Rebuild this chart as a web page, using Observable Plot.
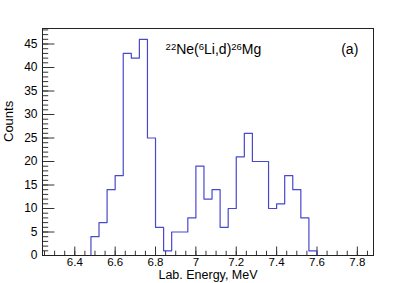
<!DOCTYPE html>
<html><head><meta charset="utf-8">
<script src="https://cdn.jsdelivr.net/npm/d3@7"></script>
<script src="https://cdn.jsdelivr.net/npm/@observablehq/plot@0.6"></script>
<style>body{margin:0;background:#fff}svg{display:block}</style>
</head><body><div id="chart"></div>
<script>
// Histogram bin edges (lower edges, plus final upper edge), MeV
const binEdges = [6.24,6.28,6.32,6.36,6.40,6.44,6.48,6.52,6.56,6.60,6.64,6.68,6.72,6.76,6.80,6.84,6.88,6.92,6.96,7.00,7.04,7.08,7.12,7.16,7.20,7.24,7.28,7.32,7.36,7.40,7.44,7.48,7.52,7.56,7.60,7.64,7.68,7.72,7.76,7.80,7.84,7.88];
// Counts per bin
const binCounts = [0,0,0,0,0,0,4,7,14,17,43,42,46,25,6,1,5,5,8,19,12,14,6,10,21,26,20,20,10,11,17,14,8,1,0,0,0,0,0,0,0];
const xMajorTicks = [6.4,6.6,6.8,7.0,7.2,7.4,7.6,7.8];
const xTickLabels = ["6.4","6.6","6.8","7","7.2","7.4","7.6","7.8"];
const yMajorTicks = [0,5,10,15,20,25,30,35,40,45];
const xTitle = "Lab. Energy, MeV";
const yTitle = "Counts";
const titleParts = [["22",true],["Ne(",false],["6",true],["Li,d)",false],["26",true],["Mg",false]];
const panelLabel = "(a)";

const xMinorTicks = d3.range(6.25, 7.88, 0.05).map(v => +v.toFixed(2));
const yMinorTicks = d3.range(0, 49, 1);

const hist = binEdges.map((x, i) => ({x, y: binCounts[Math.min(i, binCounts.length - 1)]}));
const titleText = titleParts.map(d => d[0]).join("");

const plot = Plot.plot({
  width: 415, height: 283,
  marginLeft: 42, marginRight: 42, marginTop: 28, marginBottom: 28,
  x: {domain: [6.24, 7.88]},
  y: {domain: [0, 48.3]},
  style: {fontFamily: "'Liberation Sans', Arial, sans-serif", fontSize: "12px", color: "#000", background: "#fff"},
  marks: [
    Plot.axisX(xMinorTicks, {tickSize: -4.3, tickFormat: () => "", label: null, stroke: "#333"}),
    Plot.axisX(xMajorTicks, {tickSize: -8.5, tickFormat: () => "", label: null, stroke: "#333"}),
    Plot.axisX(xMajorTicks, {tickSize: 0, tickPadding: 2, fontSize: 11.5, tickFormat: (d, i) => xTickLabels[i], label: null}),
    Plot.axisY(yMinorTicks, {tickSize: -6.2, tickFormat: () => "", label: null, stroke: "#333"}),
    Plot.axisY(yMajorTicks, {tickSize: -12.4, tickFormat: () => "", label: null, stroke: "#333"}),
    Plot.axisY(yMajorTicks, {tickSize: 0, tickPadding: 5, tickFormat: d => String(d), label: null}),
    Plot.line(hist, {x: "x", y: "y", curve: "step-after", stroke: "#4848cc", strokeWidth: 1.2}),
    Plot.frame({stroke: "#222"}),
    Plot.text([xTitle], {frameAnchor: "bottom", dy: 15, fontSize: 12.5, lineAnchor: "top"}),
    Plot.text([yTitle], {frameAnchor: "left", rotate: -90, dx: -34, fontSize: 13}),
    Plot.text([titleText], {x: [6.85], y: [43.8], textAnchor: "start", fontSize: 14}),
    Plot.text([panelLabel], {x: [7.72], y: [43.8], textAnchor: "start", fontSize: 14})
  ]
});

d3.select(plot).selectAll("text").filter(function() { return this.textContent === titleText; })
  .each(function() {
    const t = d3.select(this);
    t.text(null);
    titleParts.forEach(([s, sup]) => {
      const span = t.append("tspan").text(s);
      if (sup) span.attr("font-size", "9.5px").attr("baseline-shift", "45%");
    });
  });

document.getElementById("chart").appendChild(plot);
</script>
</body></html>
